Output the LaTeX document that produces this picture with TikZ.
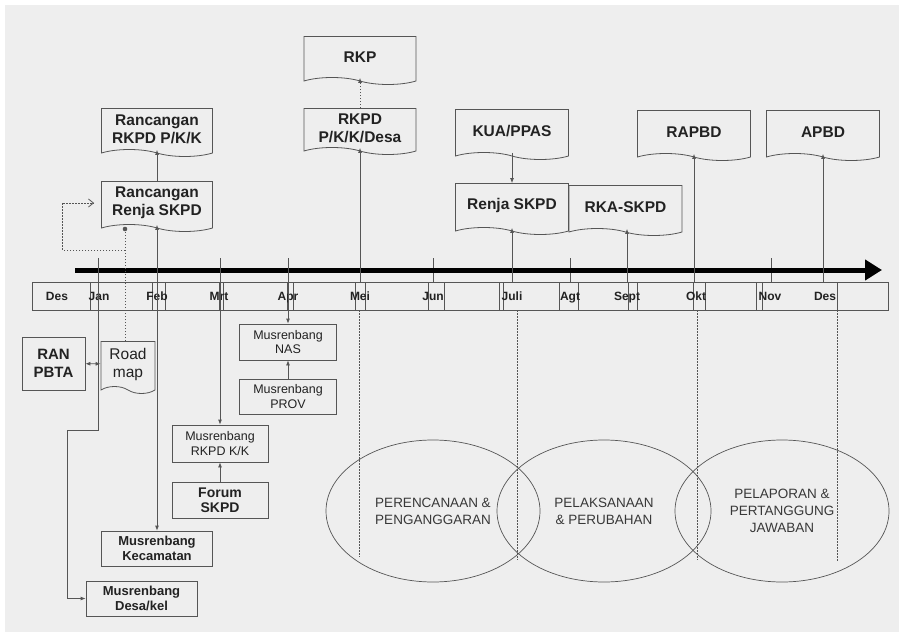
\documentclass[tikz,border=0pt]{standalone}
\usepackage{fontspec}
\setmainfont{Liberation Sans}
\usetikzlibrary{arrows.meta,shapes.symbols,shapes.geometric}
\definecolor{bggray}{HTML}{EEEEEE}
\definecolor{linegray}{HTML}{555555}
\definecolor{txtgray}{HTML}{222222}

\tikzset{%
        docbox/.style={
                tape, tape bend top=none, tape bend bottom=out and in,
                tape bend height=7pt, draw=linegray, line width=0.8pt,
                text=txtgray, align=center, inner sep=2pt,
                font=\fontsize{15.5}{18}\selectfont\bfseries
            },
        musbox/.style={
                rectangle, draw=linegray, line width=0.8pt, text=txtgray,
                align=center, inner sep=2pt,
                font=\fontsize{12.5}{14.5}\selectfont
            },
        phase/.style={
                ellipse, draw=linegray, line width=0.7pt, text=txtgray!90,
                minimum width=214pt, minimum height=142pt, align=center,
                font=\fontsize{13.5}{17}\selectfont
            },
        monthlbl/.style={
                text=txtgray, inner sep=0pt, anchor=base,
                font=\fontsize{12}{12}\selectfont\bfseries
            },
        tick/.style={linegray, line width=0.8pt},
        guide/.style={linegray, line width=0.8pt, dash pattern=on 1.5pt off 1.5pt}
    }

\begin{document}
\begin{tikzpicture}[x=1pt, y=-1pt, >={Latex[length=5pt,width=4pt]}]
    \useasboundingbox (0,0) rectangle (904,636);
    \fill[white] (0,0) rectangle (904,636);
    \fill[bggray] (5,5) rectangle (899,632);

    % timeline:
        \coordinate (tstart) at (75,270);
        \coordinate (tend) at (882,270);
        \draw[tick] (32,282) rectangle (888,310);
        \foreach \sx in {90,152,165,219,223,287,293,355,365,428,444,499,503,559,578,628,637,693,705,756,762,837}
            \draw[tick] (\sx,282) -- (\sx,310);
        \foreach \tx in {433,570,771}
            \draw[tick] (\tx,258) -- (\tx,282);
        \draw[black, line width=5pt, -{Triangle[length=17pt,width=20pt]}] (tstart) -- (tend);

        \node [monthlbl] (m1) at (57,300) {Des};
        \node [monthlbl] (m2) at (99,300) {Jan};
        \node [monthlbl] (m3) at (157,300) {Feb};
        \node [monthlbl] (m4) at (219,300) {Mrt};
        \node [monthlbl] (m5) at (288,300) {Apr};
        \node [monthlbl] (m6) at (360,300) {Mei};
        \node [monthlbl] (m7) at (433,300) {Jun};
        \node [monthlbl] (m8) at (512,300) {Juli};
        \node [monthlbl] (m9) at (570,300) {Agt};
        \node [monthlbl] (m10) at (627,300) {Sept};
        \node [monthlbl] (m11) at (696,300) {Okt};
        \node [monthlbl] (m12) at (770,300) {Nov};
        \node [monthlbl] (m13) at (825,300) {Des};

    % documents above the timeline:
        \node [docbox, minimum width=112pt, minimum height=48pt] (rkp) at (360,57) {RKP};
        \node [docbox, minimum width=112pt, minimum height=46pt] (rkpd) at (360,128) {RKPD\\P/K/K/Desa};
        \node [docbox, minimum width=111pt, minimum height=48pt] (rrkpd) at (157,129) {Rancangan\\RKPD P/K/K};
        \node [docbox, minimum width=111pt, minimum height=50pt] (rrenja) at (157,203) {Rancangan\\Renja SKPD};
        \node [docbox, minimum width=113pt, minimum height=50pt] (kua) at (512,131) {KUA/PPAS};
        \node [docbox, minimum width=113pt, minimum height=51pt] (renja) at (512,205.5) {Renja SKPD};
        \node [docbox, minimum width=113pt, minimum height=50pt] (rka) at (625.5,207) {RKA-SKPD};
        \node [docbox, minimum width=113pt, minimum height=50pt] (rapbd) at (694,132) {RAPBD};
        \node [docbox, minimum width=113pt, minimum height=50pt] (apbd) at (823,132) {APBD};

    % musrenbang below the timeline:
        \node [musbox, font=\fontsize{15}{18}\selectfont\bfseries, minimum width=63pt, minimum height=53pt] (ran) at (53.5,363.5) {RAN\\PBTA};
        \node [docbox, font=\fontsize{15.5}{18}\selectfont, minimum width=54pt, minimum height=52pt] (roadmap) at (128,364) {Road\\map};
        \node [musbox, minimum width=97pt, minimum height=36pt] (nas) at (288,342) {Musrenbang\\NAS};
        \node [musbox, minimum width=97pt, minimum height=35pt] (prov) at (288,396.5) {Musrenbang\\PROV};
        \node [musbox, minimum width=96pt, minimum height=37pt] (mrkpd) at (220,443.5) {Musrenbang\\RKPD K/K};
        \node [musbox, font=\fontsize{14}{15}\selectfont\bfseries, minimum width=96pt, minimum height=36pt] (forum) at (220,500) {Forum\\SKPD};
        \node [musbox, font=\fontsize{13}{15}\selectfont\bfseries, minimum width=111pt, minimum height=35pt] (kec) at (157,548.5) {Musrenbang\\Kecamatan};
        \node [musbox, font=\fontsize{13}{15}\selectfont\bfseries, minimum width=111pt, minimum height=35pt] (desa) at (141.5,598.5) {Musrenbang\\Desa/kel};

    % phases:
        \node [phase] (plan) at (433,511) {PERENCANAAN \&\\PENGANGGARAN};
        \node [phase] (exec) at (604,511) {PELAKSANAAN\\\& PERUBAHAN};
        \node [phase] (report) at (782,511) {PELAPORAN \&\\PERTANGGUNG\\JAWABAN};

    % connectors:
        \coordinate (jan) at (98,258);
        \coordinate (janbend) at (67,430);
        \coordinate (mrt) at (220,258);
        \coordinate (apr) at (288,258);
        \coordinate (mei) at (360,282);
        \coordinate (juli) at (512,282);
        \coordinate (sept) at (627,282);
        \coordinate (okt) at (694,282);
        \coordinate (des) at (823,282);
        \coordinate (rdot) at (125,229);
        \coordinate (fb) at (125,250);
        \coordinate (fbturn) at (62,203);

        \draw[tick, ->] (rkpd.north) -- (rkp.south) [guide];
        \draw[tick, ->] (rrenja.north) -- (rrkpd.south);
        \draw[tick, ->] (kua.south) -- (renja.north);
        \draw[tick, <->] (kec.north) -- (kec.north |- rrenja.south);
        \draw[tick, ->] (mei) -- (rkpd.south);
        \draw[tick, ->] (juli) -- (renja.south);
        \draw[tick, ->] (sept) -- (sept |- rka.south);
        \draw[tick, ->] (okt) -- (rapbd.south);
        \draw[tick, ->] (des) -- (apbd.south);
        \draw[tick, ->] (jan) |- (janbend) |- (desa.west);
        \draw[tick, ->] (mrt) -- (mrkpd.north);
        \draw[tick, ->] (forum) -- (mrkpd);
        \draw[tick, ->] (apr) -- (nas.north);
        \draw[tick, ->] (prov) -- (nas);
        \draw[tick, <->] (ran) -- (roadmap);

        \draw[guide] (roadmap.north -| rdot) -- (rdot);
        \fill[linegray] (rdot) circle (2.3pt);
        \draw[guide, -{Straight Barb[length=5pt,width=8pt]}, shorten >=7pt] (fb) -| (fbturn) -- (rrenja.west);

        \draw[guide] (359,310) -- (359,557);
        \draw[guide] (517,310) -- (517,560);
        \draw[guide] (697,310) -- (697,560);
        \draw[guide] (837,310) -- (837,562);
\end{tikzpicture}
\end{document}
